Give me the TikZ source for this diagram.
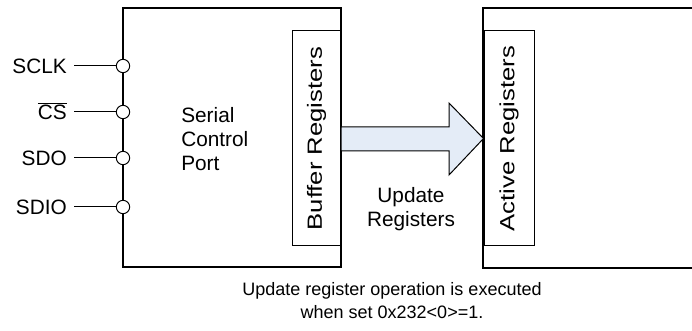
\documentclass[tikz,border=0pt]{standalone}
\usepackage{fontspec}
\setmainfont{Liberation Sans}
\newfontfamily\regfont[FakeStretch=1.25]{Liberation Sans}
\usetikzlibrary{positioning}

\begin{document}
\begin{tikzpicture}[x=0.75pt,y=-0.75pt,
outerbox/.style={line width=1.5pt},
regbox/.style={draw,line width=0.75pt,rotate=90,inner sep=0pt,minimum width=161.25pt,font=\regfont\fontsize{15.4}{17}\selectfont},
pinring/.style={circle,draw,fill=white,line width=0.75pt,inner sep=0pt,minimum size=10pt},
pinlabel/.style={anchor=east,inner xsep=5.25pt,inner ysep=0pt,text height=11pt,text depth=0pt},
updarrow/.style={line width=0.75pt,fill=arrowfill},
every node/.append style={font=\fontsize{15.6}{18}\selectfont}]

\definecolor{arrowfill}{RGB}{228,236,247}
\useasboundingbox (0,0) rectangle (692,331);

\draw[outerbox] (123,8) rectangle (341,267);
\draw[outerbox] (483,8) rectangle (720,268);

\node[regbox,minimum height=36.75pt] (buf) at (316.5,138.5) {Buffer Registers};
\node[regbox,minimum height=37.5pt] (act) at (509,138.5) {Active Registers};

\filldraw[updarrow] (341,127) -- (449,127) -- (449,103) -- (act.north)
    -- (449,175) -- (449,151) -- (341,151) -- cycle;

\foreach \pname/\ptext/\py in {sclk/SCLK/66,cs/{$\overline{\mbox{CS}}$}/112,sdo/SDO/158,sdio/SDIO/207}{
    \node[pinring] (\pname) at (123,\py) {};
    \node[pinlabel] (\pname lbl) at (74,\py) {\ptext};
    \draw[line width=0.75pt] (\pname lbl.east) -- (\pname.west);
}

\node[anchor=west,align=left,inner sep=0pt] (scp) at (181,139) {Serial\\Control\\Port};
\node[align=center,inner sep=0pt] (upd) at (411,209) {Update\\Registers};
\node[align=center,inner sep=0pt,font=\fontsize{13.5}{17.25}\selectfont] (note) at (392,301)
    {Update register operation is executed\\when set 0x232<0>=1.};

\end{tikzpicture}
\end{document}
